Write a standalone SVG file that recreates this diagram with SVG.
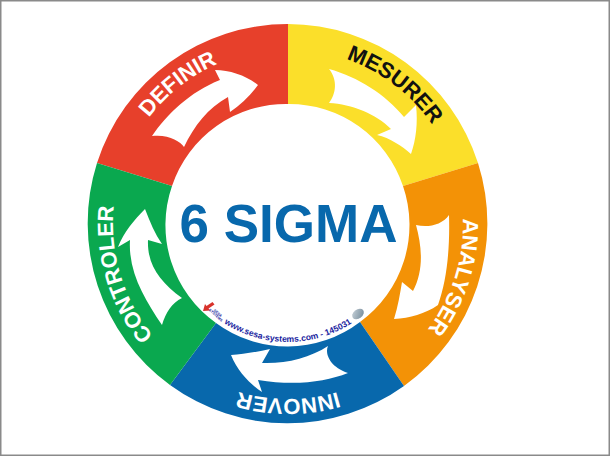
<svg xmlns="http://www.w3.org/2000/svg" width="610" height="456" viewBox="0 0 610 456">
<style>
.lbl{font-family:"Liberation Sans",Arial,sans-serif;font-weight:700;font-size:22px;fill:#fff;text-anchor:middle}
.arrow{fill:#fff}
.tiny{font-family:"Liberation Sans",Arial,sans-serif;font-weight:700;font-size:3.6px;fill:#1c1f9f;text-anchor:middle}
</style>
<defs>
<path id="cw" d="M288 49A175 175 0 1 1 287.99 49"/>
<path id="ccw" d="M170 224A118 118 0 0 0 406 224"/>
<linearGradient id="disc" x1="0" y1="0" x2="1" y2="1"><stop offset="0" stop-color="#c9d3da"/><stop offset="1" stop-color="#6f8696"/></linearGradient>
</defs>
<rect width="610" height="456" fill="#fff"/>
<rect x="0.75" y="0.75" width="608.5" height="454.5" fill="none" stroke="#8a8a8a" stroke-width="1.5"/>
<g id="definir">
<path fill="#e7402b" d="M288 24A200 200 0 0 0 97 163L172 186A120 120 0 0 1 288 104Z"/>
<path class="arrow" d="M152 136C167 114 190 92 220 80L215 70C230 70 247 76 258 85C250 96 240 105 230 112L228 97C208 108 194 126 184 147C180 141 168 134 152 136Z"/>
<text class="lbl"><textPath href="#cw" startOffset="89.4%">DEFINIR</textPath></text>
</g>
<g id="mesurer">
<path fill="#fbdf2a" d="M288 24A200 200 0 0 1 478 163L403 186A120 120 0 0 0 288 104Z"/>
<path class="arrow" d="M329 69C358 77 385 94 404 117L416 105C418 123 416 140 411 154C402 146 390 138 377 135L391 129C376 114 352 104 329 103C336 94 338 80 329 69Z"/>
<text class="lbl" style="fill:#111"><textPath href="#cw" startOffset="10.4%">MESURER</textPath></text>
</g>
<g id="analyser">
<path fill="#f39206" d="M478 163A200 200 0 0 1 404 386L360 322A120 120 0 0 0 403 186Z"/>
<path class="arrow" d="M449 215C450 248 447 280 438 305C425 314 410 318 394 319C398 306 400 294 402 282L413 291C424 270 422 247 416 225C428 228 442 225 449 215Z"/>
<text class="lbl"><textPath href="#cw" startOffset="29.9%">ANALYSER</textPath></text>
</g>
<g id="innover">
<path fill="#0868ac" d="M404 386A200 200 0 0 1 170 385L216 323A120 120 0 0 0 360 322Z"/>
<path class="arrow" d="M328 346C325 352 328 366 348 373C325 382 295 386 258 380L262 392C250 384 238 372 231 355C243 354 257 352 270 349L262 363C285 364 310 358 328 346Z"/>
<text class="lbl"><textPath href="#cw" startOffset="50%">INNOVER</textPath></text>
</g>
<g id="controler">
<path fill="#0aa84f" d="M170 385A200 200 0 0 1 97 163L172 186A120 120 0 0 0 216 323Z"/>
<path class="arrow" d="M145 209C150 222 155 234 162 244L148 240C147 265 160 282 182 298C172 303 166 312 162 325C145 300 128 272 130 240L118 247C124 232 134 220 145 209Z"/>
<text class="lbl"><textPath href="#cw" startOffset="70.3%">CONTROLER</textPath></text>
</g>
<g id="center">
<text x="288.5" y="242" text-anchor="middle" style="font-family:'Liberation Sans',Arial,sans-serif;font-weight:700;font-size:53px;fill:#0868ac">6 SIGMA</text>
</g>
<g id="credit">
<text style="font-family:'Liberation Sans',Arial,sans-serif;font-weight:700;font-size:8.6px;fill:#1c1f9f" text-anchor="middle"><textPath href="#ccw" startOffset="50%">www.sesa-systems.com - 145031</textPath></text>
<path fill="#d8322b" d="M203 311l2-7 1.500 2 6-4 2 2.500-6 4 2 2Z"/>
<text class="tiny" transform="translate(217 314) rotate(42)">SESA</text>
<text class="tiny" transform="translate(215 316) rotate(42)">SYSTEMS</text>
<ellipse cx="358" cy="314" rx="6.500" ry="4.500" transform="rotate(-38 358 314)" fill="url(#disc)"/>
</g>
</svg>
